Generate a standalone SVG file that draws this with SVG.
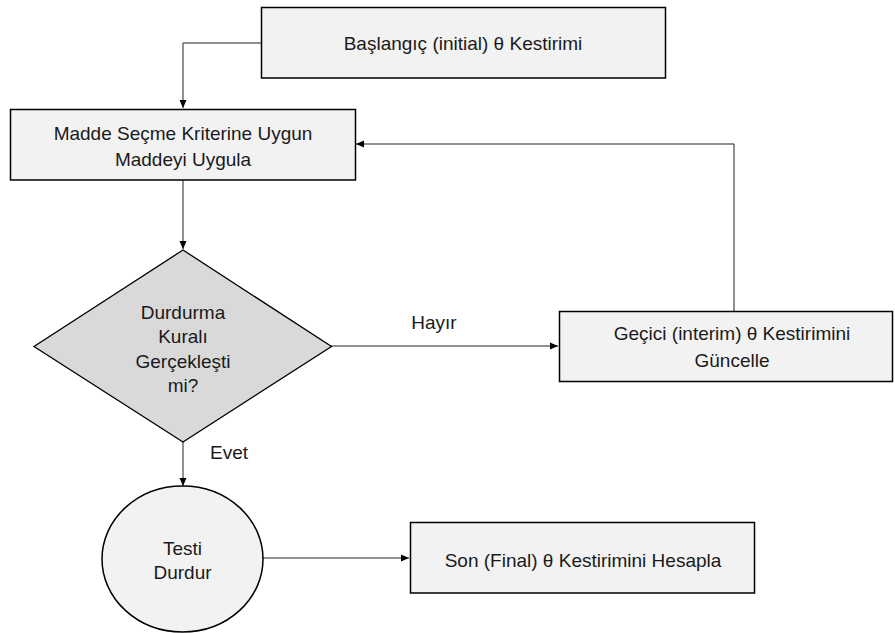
<svg xmlns="http://www.w3.org/2000/svg" width="895" height="633" viewBox="0 0 895 633">
  <style>
    .box { fill: #f2f2f2; stroke: #000; stroke-width: 1.5; }
    .dec { fill: #d9d9d9; stroke: #000; stroke-width: 1.3; }
    .lbl { font-family: "Liberation Sans", Arial, sans-serif; font-size: 19px; fill: #1a1a1a; text-anchor: middle; }
    .edge { fill: none; stroke: #222; stroke-width: 1; }
  </style>
  <defs>
    <marker id="arrow" markerWidth="10" markerHeight="10" refX="9" refY="5" orient="auto" markerUnits="userSpaceOnUse">
      <path d="M1,1.5 L9,5 L1,8.5 Z" fill="#000"/>
    </marker>
  </defs>
  <rect width="895" height="633" fill="#fff"/>

  <g id="connectors">
    <path class="edge" d="M261,43 H183 V108" marker-end="url(#arrow)"/>
    <path class="edge" d="M183,180 V249" marker-end="url(#arrow)"/>
    <path class="edge" d="M331,346 H558" marker-end="url(#arrow)"/>
    <path class="edge" d="M734,311 V144 H356" marker-end="url(#arrow)"/>
    <path class="edge" d="M183,442 V486" marker-end="url(#arrow)"/>
    <path class="edge" d="M263,558 H409" marker-end="url(#arrow)"/>
    <text class="lbl" x="434" y="328.5">Hayır</text>
    <text class="lbl" x="229" y="458.5">Evet</text>
  </g>

  <g id="start">
    <rect class="box" x="261.5" y="7.5" width="404" height="70.5"/>
    <text class="lbl" x="463" y="50">Başlangıç (initial) θ Kestirimi</text>
  </g>

  <g id="apply-item">
    <rect class="box" x="10.5" y="109.5" width="345" height="70.5"/>
    <text class="lbl" x="183" y="139.5">Madde Seçme Kriterine Uygun</text>
    <text class="lbl" x="183" y="165.5">Maddeyi Uygula</text>
  </g>

  <g id="stop-rule">
    <polygon class="dec" points="183,250 331.5,346.5 183,442 34,346.5"/>
    <text class="lbl" x="183" y="319">Durdurma</text>
    <text class="lbl" x="183" y="343">Kuralı</text>
    <text class="lbl" x="183" y="368">Gerçekleşti</text>
    <text class="lbl" x="183" y="392">mi?</text>
  </g>

  <g id="update-interim">
    <rect class="box" x="559.5" y="311.5" width="333" height="70"/>
    <text class="lbl" x="732" y="340">Geçici (interim) θ Kestirimini</text>
    <text class="lbl" x="732" y="366.5">Güncelle</text>
  </g>

  <g id="stop-test">
    <ellipse class="box" cx="182.5" cy="559" rx="80.5" ry="73"/>
    <text class="lbl" x="182.5" y="554.5">Testi</text>
    <text class="lbl" x="182.5" y="578.5">Durdur</text>
  </g>

  <g id="final-estimate">
    <rect class="box" x="410.5" y="522.5" width="344" height="70.5"/>
    <text class="lbl" x="583" y="566.5">Son (Final) θ Kestirimini Hesapla</text>
  </g>
</svg>
